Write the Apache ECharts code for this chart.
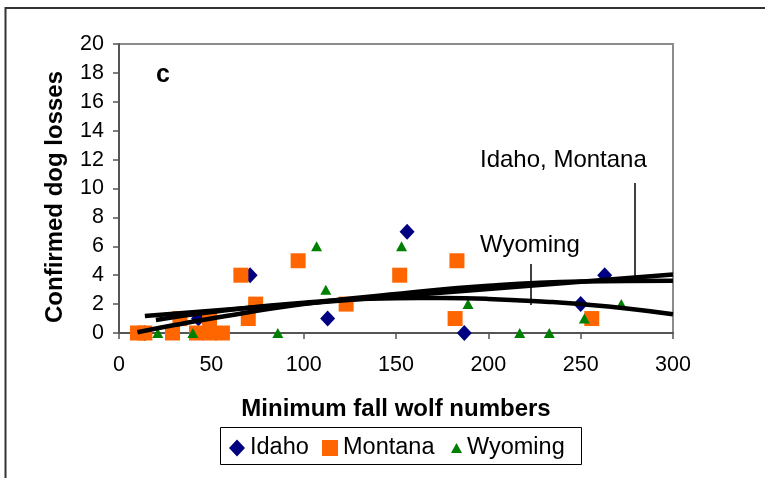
<!DOCTYPE html>
<html>
<head>
<meta charset="utf-8">
<script src="https://cdn.jsdelivr.net/npm/echarts@6/dist/echarts.min.js"></script>
<style>
  html, body { margin: 0; padding: 0; background: #fff; }
  #chart { width: 765px; height: 478px; }
</style>
</head>
<body>
<div id="chart"></div>
<script>
// points: [wolf numbers, dog losses]
const idaho = [[14, 0], [43, 1], [71, 4], [113, 1], [156, 7], [187, 0], [250, 2], [263, 4]]
const montana = [
  [10, 0], [14, 0], [29, 0], [33, 1], [42, 0], [49, 1], [49, 0], [56, 0], [66, 4],
  [70, 1], [74, 2], [97, 5], [123, 2], [152, 4], [182, 1], [183, 5], [256, 1]
]
const wyoming = [[21, 0], [40, 0], [86, 0], [107, 6], [112, 3], [153, 6], [189, 2], [217, 0], [233, 0], [252, 1], [272, 2]]

// trend lines
const idahoTrend = [[14, 1.18], [300, 4.05]]
const montanaTrend = [[10, 0.05], [30, 0.55], [50, 1.01], [100, 2.0], [150, 2.7], [200, 3.27], [250, 3.56], [300, 3.62]]
const wyomingTrend = [[20, 0.9], [50, 1.45], [100, 2.1], [150, 2.4], [175, 2.42], [200, 2.36], [233, 2.15], [250, 2.0], [275, 1.7], [300, 1.3]]

const xTicks = { min: 0, max: 300, interval: 50 }
const yTicks = { min: 0, max: 20, interval: 2 }

const font = "'Liberation Sans', Arial, sans-serif"

const chart = echarts.init(document.getElementById('chart'))

const trendLine = (name, data, smooth) => ({
  name,
  type: 'line',
  data,
  smooth,
  showSymbol: false,
  silent: true,
  lineStyle: { color: '#000', width: 4.5 },
  z: 5,
})

const legendBase = {
  top: 436,
  orient: 'horizontal',
  padding: 0,
  itemGap: 0,
  textStyle: { fontFamily: font, fontSize: 23.5, color: '#000', lineHeight: 23 },
  selectedMode: false,
}

const option = {
  backgroundColor: '#fff',
  animation: false,
  grid: {
    left: 119, top: 44, right: 92, bottom: 145,
    show: true, borderColor: '#8c8c8c', borderWidth: 2,
  },
  xAxis: {
    type: 'value',
    ...xTicks,
    axisLine: { onZero: false, lineStyle: { color: '#555', width: 2 } },
    axisTick: { show: true, length: 6, lineStyle: { color: '#555', width: 1.5 } },
    axisLabel: { margin: 21, color: '#000', fontFamily: font, fontSize: 21.5 },
    splitLine: { show: false },
  },
  yAxis: {
    type: 'value',
    ...yTicks,
    axisLine: { show: true, lineStyle: { color: '#555', width: 2 } },
    axisTick: { show: true, length: 6, lineStyle: { color: '#555', width: 1.5 } },
    axisLabel: { margin: 15, color: '#000', fontFamily: font, fontSize: 21.5 },
    splitLine: { show: false },
  },
  legend: [
    { ...legendBase, left: 229, data: [{ name: 'Idaho', icon: 'diamond' }], itemWidth: 16, itemHeight: 17 },
    { ...legendBase, left: 322, data: [{ name: 'Montana', icon: 'rect' }], itemWidth: 16, itemHeight: 16 },
    { ...legendBase, left: 451, data: [{ name: 'Wyoming', icon: 'triangle' }], itemWidth: 11, itemHeight: 10 },
  ],
  series: [
    {
      name: 'Idaho', type: 'scatter', data: idaho,
      symbol: 'diamond', symbolSize: [15, 16],
      itemStyle: { color: '#000080', opacity: 1 },
    },
    {
      name: 'Montana', type: 'scatter', data: montana,
      symbol: 'rect', symbolSize: 15,
      itemStyle: { color: '#ff6600', opacity: 1 },
    },
    {
      name: 'Wyoming', type: 'scatter', data: wyoming,
      symbol: 'triangle', symbolSize: [11, 10],
      itemStyle: { color: '#008000', opacity: 1 },
    },
    trendLine('Idaho trend', idahoTrend, false),
    trendLine('Montana trend', montanaTrend, true),
    trendLine('Wyoming trend', wyomingTrend, true),
  ],
  graphic: [
    // outer frame (top and left edges)
    { type: 'polyline', shape: { points: [[5.5, 478], [5.5, 8], [765, 8]] }, style: { stroke: '#333', lineWidth: 2, fill: null } },
    // legend box
    { type: 'rect', shape: { x: 220.5, y: 427.5, width: 361, height: 37 }, style: { stroke: '#000', lineWidth: 1, fill: null }, z: 1 },
    // panel letter
    { type: 'text', x: 156, y: 75, style: { text: 'c', font: `bold 25px ${font}`, fill: '#000', textVerticalAlign: 'middle' } },
    // annotations
    { type: 'text', x: 480, y: 160, style: { text: 'Idaho, Montana', font: `24px ${font}`, fill: '#000', textVerticalAlign: 'middle' } },
    { type: 'line', shape: { x1: 635, y1: 183, x2: 635, y2: 276 }, style: { stroke: '#000', lineWidth: 1.5 }, z: 10 },
    { type: 'text', x: 480, y: 245, style: { text: 'Wyoming', font: `24px ${font}`, fill: '#000', textVerticalAlign: 'middle' } },
    { type: 'line', shape: { x1: 531, y1: 264, x2: 531, y2: 305 }, style: { stroke: '#000', lineWidth: 1.5 }, z: 10 },
    // axis titles
    { type: 'text', x: 396, y: 409, style: { text: 'Minimum fall wolf numbers', font: `bold 24px ${font}`, fill: '#000', textAlign: 'center', textVerticalAlign: 'middle' } },
    { type: 'text', x: 55, y: 197, rotation: Math.PI / 2, style: { text: 'Confirmed dog losses', font: `bold 24px ${font}`, fill: '#000', textAlign: 'center', textVerticalAlign: 'middle' } },
  ],
}

chart.setOption(option)
</script>
</body>
</html>
